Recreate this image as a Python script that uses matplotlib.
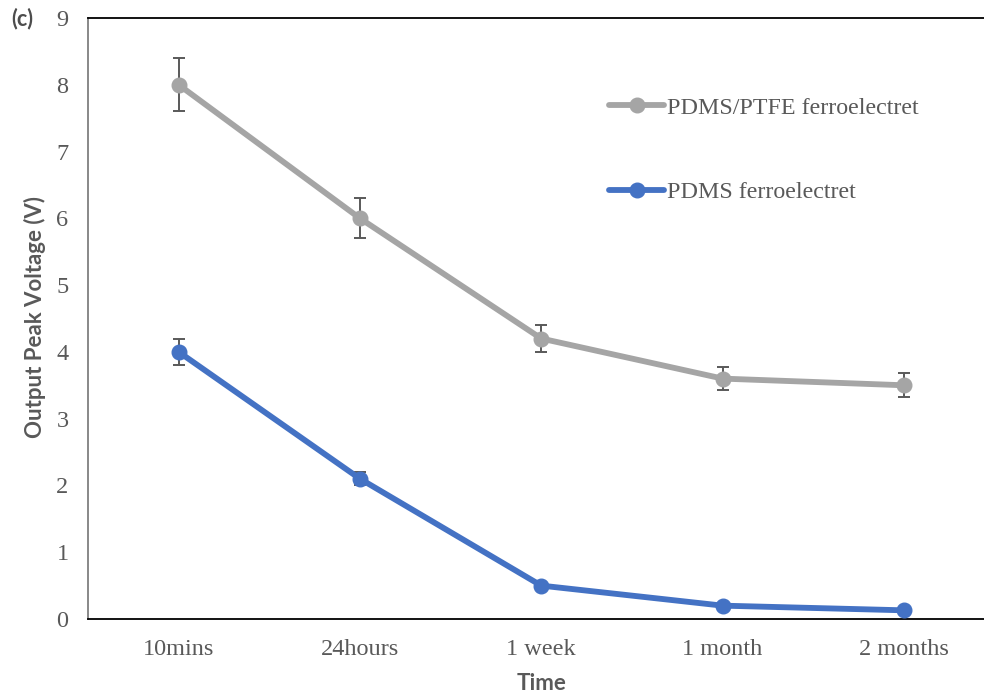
import matplotlib
matplotlib.use("Agg")
import matplotlib.pyplot as plt

# Data
time_labels = ["10mins", "24hours", "1 week", "1 month", "2 months"]
ptfe_voltage = [8.0, 6.0, 4.2, 3.6, 3.5]
ptfe_err = [0.4, 0.3, 0.2, 0.17, 0.18]
pdms_voltage = [4.0, 2.1, 0.5, 0.2, 0.13]
pdms_err = [0.2, 0.1, 0.05, 0.03, 0.03]
y_ticks = list(range(0, 10))

GRAY = "#a5a5a5"
BLUE = "#4472c4"
TEXT = "#595959"
SERIF = ["Liberation Serif", "DejaVu Serif"]
SANS = ["Lato", "Open Sans", "DejaVu Sans"]

fig = plt.figure(figsize=(9.84, 6.95), dpi=100)
W, H = 984, 695
left, right, top, bottom = 88, 994.5, 18, 619
ax = fig.add_axes([left / W, 1 - bottom / H, (right - left) / W, (bottom - top) / H])

x = list(range(len(time_labels)))

for vals, errs, color, label in [
    (ptfe_voltage, ptfe_err, GRAY, "PDMS/PTFE ferroelectret"),
    (pdms_voltage, pdms_err, BLUE, "PDMS ferroelectret"),
]:
    ax.errorbar(x, vals, yerr=errs, fmt="none", ecolor="#595959",
                elinewidth=1.4, capsize=4.3, capthick=1.4, zorder=2)
    ax.plot(x, vals, color=color, lw=4.2, marker="o", markersize=10.5,
            solid_capstyle="round", label=label, zorder=3)

ax.set_xlim(-0.5, len(time_labels) - 0.5)
ax.set_ylim(0, 9)
ax.set_yticks(y_ticks)
ax.set_xticks(x)
ax.set_xticklabels(time_labels)
ax.tick_params(axis="both", length=0, labelsize=17.5, labelcolor=TEXT)
ax.tick_params(axis="y", pad=14)
ax.tick_params(axis="x", pad=14.5)
for lbl in ax.get_xticklabels() + ax.get_yticklabels():
    lbl.set_family(SERIF)

ax.spines["top"].set_color("black")
ax.spines["top"].set_linewidth(1.3)
ax.spines["bottom"].set_color("black")
ax.spines["bottom"].set_linewidth(1.3)
ax.spines["left"].set_color("#7f7f7f")
ax.spines["left"].set_linewidth(1.3)
ax.spines["right"].set_visible(False)

ax.set_ylabel("Output Peak Voltage (V)", fontsize=16, fontweight="bold",
              color=TEXT, family=SANS)
ax.set_xlabel("Time", fontsize=16, fontweight="bold", color=TEXT, family=SANS)
ax.yaxis.set_label_coords((35 - left) / (right - left), 0.502)
ax.yaxis.label.set_va("center")
ax.xaxis.set_label_coords(0.5, (bottom - 684) / (bottom - top))
ax.xaxis.label.set_va("center")

fig.text(11 / W, 1 - 19 / H, "(c)", fontsize=15.5, fontweight="bold",
         color="#4d4d4d", family=SANS, ha="left", va="center")

leg = ax.legend(loc="upper left", bbox_to_anchor=(609 / W, 1 - 97 / H),
                bbox_transform=fig.transFigure, frameon=False,
                borderaxespad=0, borderpad=0, handlelength=2.3,
                handletextpad=0.12, labelspacing=2.6,
                prop={"family": SERIF, "size": 17.3})
for t in leg.get_texts():
    t.set_color(TEXT)

fig.savefig("out.png", dpi=100)
